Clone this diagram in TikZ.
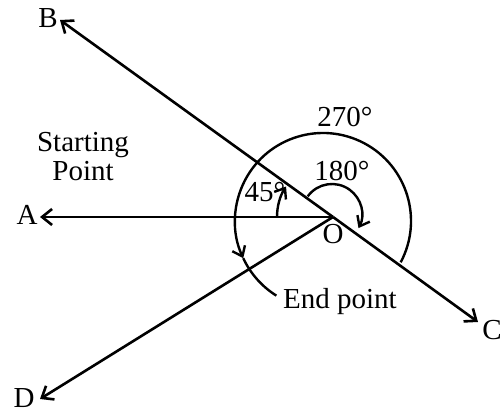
\documentclass[tikz,border=0pt]{standalone}
\usepackage{fontspec}
\setmainfont{Liberation Serif}
\usetikzlibrary{arrows.meta}

\begin{document}
\begin{tikzpicture}[x=1pt,y=1pt,
 every node/.style={font=\fontsize{29}{29}\selectfont,inner sep=1pt},
 ray/.style={line width=2.6pt,-{Straight Barb[length=10pt,width=16pt]}},
 turn/.style={line width=2.4pt,-{Straight Barb[length=9pt,width=14pt]}},
 plain/.style={line width=2.4pt}]
 \useasboundingbox (0,0) rectangle (501,415);
 \coordinate (O) at (333,198);
 % ends of the four rays
 \coordinate (tipA) at (40,198);
 \coordinate (tipB) at (60,395);
 \coordinate (tipC) at (478,93);
 \coordinate (tipD) at (40,16);
 \draw[ray] (O) -- (tipA);
 \draw[ray] (O) -- (tipB);
 \draw[ray] (O) -- (tipC);
 \draw[ray] (O) -- (tipD);
 \node (lblA) at (27,200) {A};
 \node (lblB) at (48,397) {B};
 \node (lblC) at (492,85) {C};
 \node (lblD) at (24,17) {D};
 \node (lblO) at (333,181) {O};
 % angle arcs
 \draw[turn] (O) ++(180:56) arc[start angle=180,end angle=147,radius=56];
 \coordinate (mid180) at (332,201);
 \draw[turn] (mid180) ++(144:30) arc[start angle=144,end angle=-28,radius=30];
 \coordinate (mid270) at (323,194);
 \draw[turn] (mid270) ++(-28:88) arc[start angle=-28,end angle=205,radius=88];
 \draw[plain] (mid270) ++(205:88) arc[start angle=205,end angle=238,radius=88];
 \node (deg45) at (265,223) {45\textdegree};
 \node (deg180) at (342,244) {180\textdegree};
 \node (deg270) at (345,298) {270\textdegree};
 \node[align=center] (start) at (83,258) {Starting\\Point};
 \node (end) at (340,113) {End point};
\end{tikzpicture}
\end{document}
